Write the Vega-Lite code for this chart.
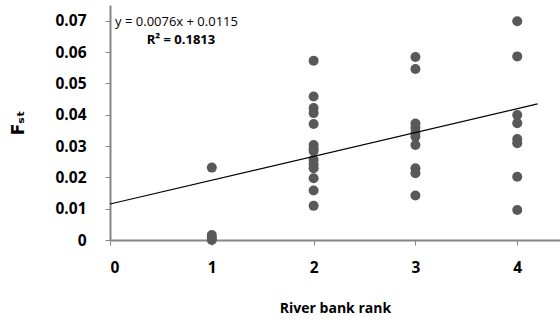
{
  "$schema": "https://vega.github.io/schema/vega-lite/v6.json",
  "autosize": "none",
  "width": 450,
  "height": 235,
  "padding": {"left": 110, "top": 5, "right": 0, "bottom": 81},
  "background": "white",
  "config": {"view": {"stroke": null}, "font": "Open Sans", "axis": {"labelOverlap": false}},
  "datasets": {
    "pts": [
      {"rank": 1, "fst": 0.0231}, {"rank": 1, "fst": 0.0016}, {"rank": 1, "fst": 0.0006}, {"rank": 1, "fst": 0.0},
      {"rank": 2, "fst": 0.0572}, {"rank": 2, "fst": 0.0458}, {"rank": 2, "fst": 0.0421}, {"rank": 2, "fst": 0.0405},
      {"rank": 2, "fst": 0.037}, {"rank": 2, "fst": 0.0303}, {"rank": 2, "fst": 0.0291}, {"rank": 2, "fst": 0.0284},
      {"rank": 2, "fst": 0.0256}, {"rank": 2, "fst": 0.0242}, {"rank": 2, "fst": 0.0229}, {"rank": 2, "fst": 0.0197},
      {"rank": 2, "fst": 0.0158}, {"rank": 2, "fst": 0.0109},
      {"rank": 3, "fst": 0.0584}, {"rank": 3, "fst": 0.0546}, {"rank": 3, "fst": 0.0372}, {"rank": 3, "fst": 0.0358},
      {"rank": 3, "fst": 0.0342}, {"rank": 3, "fst": 0.033}, {"rank": 3, "fst": 0.0303}, {"rank": 3, "fst": 0.0229},
      {"rank": 3, "fst": 0.0213}, {"rank": 3, "fst": 0.0142},
      {"rank": 4, "fst": 0.0698}, {"rank": 4, "fst": 0.0586}, {"rank": 4, "fst": 0.0399}, {"rank": 4, "fst": 0.0373},
      {"rank": 4, "fst": 0.0322}, {"rank": 4, "fst": 0.0309}, {"rank": 4, "fst": 0.0202}, {"rank": 4, "fst": 0.0096}
    ],
    "trend": [
      {"rank": 0, "fst": 0.0115},
      {"rank": 4.2, "fst": 0.04342}
    ],
    "eq": [
      {"rank": 0.05, "fst": 0.0695, "label": "y = 0.0076x + 0.0115"}
    ],
    "r2": [
      {"rank": 0.36, "fst": 0.0638, "label": "R² = 0.1813"}
    ]
  },
  "encoding": {
    "x": {
      "field": "rank", "type": "quantitative",
      "scale": {"domain": [0, 4.42], "nice": false, "zero": false},
      "axis": {
        "values": [0, 1, 2, 3, 4], "format": "d", "grid": false, "labelOverlap": false,
        "domainColor": "#868686", "domainWidth": 2, "tickColor": "#868686", "tickSize": 5, "tickWidth": 1,
        "labelFont": "Open Sans", "labelFontSize": 15.5, "labelFontWeight": "bold", "labelColor": "#000000", "labelPadding": 15,
        "title": "River bank rank", "titleFont": "Open Sans", "titleFontSize": 14, "titleFontWeight": "bold", "titleColor": "#000000", "titlePadding": 26
      }
    },
    "y": {
      "field": "fst", "type": "quantitative",
      "scale": {"domain": [0, 0.075], "nice": false},
      "axis": {
        "values": [0, 0.01, 0.02, 0.03, 0.04, 0.05, 0.06, 0.07], "grid": false, "labelOverlap": false,
        "labelExpr": "datum.value == 0 ? '0' : format(datum.value, '.2f')",
        "domainColor": "#868686", "domainWidth": 2, "tickColor": "#868686", "tickSize": 5, "tickWidth": 1,
        "labelFont": "Open Sans", "labelFontSize": 15.5, "labelFontWeight": "bold", "labelColor": "#000000", "labelPadding": 19,
        "title": "Fₛₜ", "titleFont": "DejaVu Sans", "titleFontSize": 17, "titleFontWeight": "bold", "titleColor": "#000000", "titlePadding": 27
      }
    }
  },
  "layer": [
    {
      "data": {"name": "pts"},
      "mark": {"type": "circle", "size": 100, "color": "#595959", "opacity": 1}
    },
    {
      "data": {"name": "trend"},
      "mark": {"type": "line", "color": "#000000", "strokeWidth": 1.2}
    },
    {
      "data": {"name": "eq"},
      "mark": {"type": "text", "align": "left", "baseline": "middle", "fontSize": 13, "font": "Open Sans", "color": "#000000"},
      "encoding": {"text": {"field": "label"}}
    },
    {
      "data": {"name": "r2"},
      "mark": {"type": "text", "align": "left", "baseline": "middle", "fontSize": 13, "font": "Open Sans", "fontWeight": "bold", "color": "#000000"},
      "encoding": {"text": {"field": "label"}}
    }
  ]
}
